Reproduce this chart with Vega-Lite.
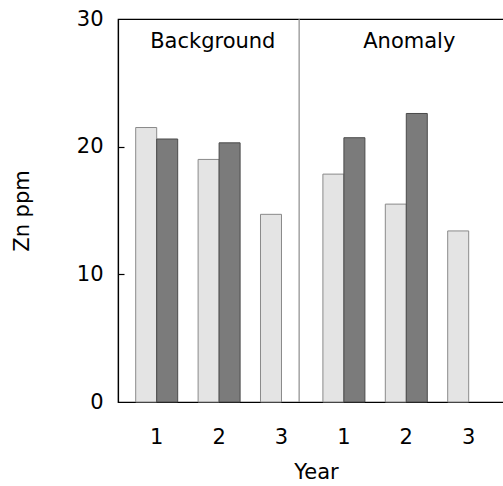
{
  "$schema": "https://vega.github.io/schema/vega-lite/v6.json",
  "width": 386,
  "height": 383,
  "autosize": {"type": "none"},
  "padding": {"left": 118, "top": 19, "right": 0, "bottom": 84},
  "background": "white",
  "config": {
    "view": {"stroke": "black", "strokeWidth": 1.2},
    "font": "DejaVu Sans",
    "axis": {"labelColor": "black", "titleColor": "black", "domainColor": "black", "tickColor": "black", "grid": false, "titleFontWeight": "normal", "labelFont": "DejaVu Sans", "titleFont": "DejaVu Sans", "domainWidth": 1.2}
  },
  "resolve": {"axis": {"y": "independent"}},
  "data": {
    "values": [
      {"slot": "B1", "zone": "Background", "year": 1, "series": "s1", "zn": 21.5},
      {"slot": "B1", "zone": "Background", "year": 1, "series": "s2", "zn": 20.6},
      {"slot": "B2", "zone": "Background", "year": 2, "series": "s1", "zn": 19.0},
      {"slot": "B2", "zone": "Background", "year": 2, "series": "s2", "zn": 20.3},
      {"slot": "B3", "zone": "Background", "year": 3, "series": "s1", "zn": 14.7},
      {"slot": "A1", "zone": "Anomaly", "year": 1, "series": "s1", "zn": 17.85},
      {"slot": "A1", "zone": "Anomaly", "year": 1, "series": "s2", "zn": 20.7},
      {"slot": "A2", "zone": "Anomaly", "year": 2, "series": "s1", "zn": 15.5},
      {"slot": "A2", "zone": "Anomaly", "year": 2, "series": "s2", "zn": 22.6},
      {"slot": "A3", "zone": "Anomaly", "year": 3, "series": "s1", "zn": 13.4}
    ]
  },
  "layer": [
    {
      "mark": {"type": "bar", "strokeWidth": 1},
      "encoding": {
        "x": {
          "field": "slot", "type": "nominal",
          "sort": ["B1", "B2", "B3", "A1", "A2", "A3"],
          "scale": {"paddingInner": 0.327, "paddingOuter": 0.2565, "align": 0.553, "round": false},
          "axis": {"title": "Year", "labelExpr": "substring(datum.label, 1)", "labelAngle": 0, "ticks": false, "labelFontSize": 21, "labelPadding": 24, "titleFontSize": 21, "titleX": 198, "titleY": 70, "titleBaseline": "middle", "titleAlign": "center"}
        },
        "xOffset": {"field": "series", "type": "nominal", "sort": ["s1", "s2"], "scale": {"paddingInner": 0, "paddingOuter": 0}},
        "y": {
          "field": "zn", "type": "quantitative",
          "scale": {"domain": [0, 30], "nice": false},
          "axis": {"orient": "left", "title": "Zn ppm", "values": [0, 10, 20, 30], "ticks": false, "labelFontSize": 21, "labelPadding": 15, "titleFontSize": 21, "titleX": -96, "titleY": 191.5, "titleAngle": 270, "titleBaseline": "middle", "titleAlign": "center"}
        },
        "fill": {"field": "series", "type": "nominal", "scale": {"domain": ["s1", "s2"], "range": ["#e4e4e4", "#7b7b7b"]}, "legend": null},
        "stroke": {"field": "series", "type": "nominal", "scale": {"domain": ["s1", "s2"], "range": ["#8a8a8a", "#4a4a4a"]}, "legend": null}
      }
    },
    {
      "data": {"values": [{"zone": "divider"}]},
      "mark": {"type": "rule", "color": "#8c8c8c", "strokeWidth": 1.2},
      "encoding": {"x": {"datum": "B3", "bandPosition": 0.92}}
    },
    {
      "data": {"values": [{"zone": "Background"}]},
      "mark": {"type": "text", "fontSize": 21, "font": "DejaVu Sans", "fill": "black"},
      "encoding": {
        "x": {"datum": "B2", "bandPosition": 0.35},
        "y": {"datum": 28.2, "axis": {"orient": "right", "offset": -386, "labels": false, "domain": false, "title": null, "values": [10, 20], "tickSize": 6, "tickWidth": 1.2}},
        "text": {"field": "zone"}
      }
    },
    {
      "data": {"values": [{"zone": "Anomaly"}]},
      "mark": {"type": "text", "fontSize": 21, "font": "DejaVu Sans", "fill": "black"},
      "encoding": {"x": {"datum": "A2", "bandPosition": 0.571}, "y": {"datum": 28.2, "axis": null}, "text": {"field": "zone"}}
    }
  ]
}
